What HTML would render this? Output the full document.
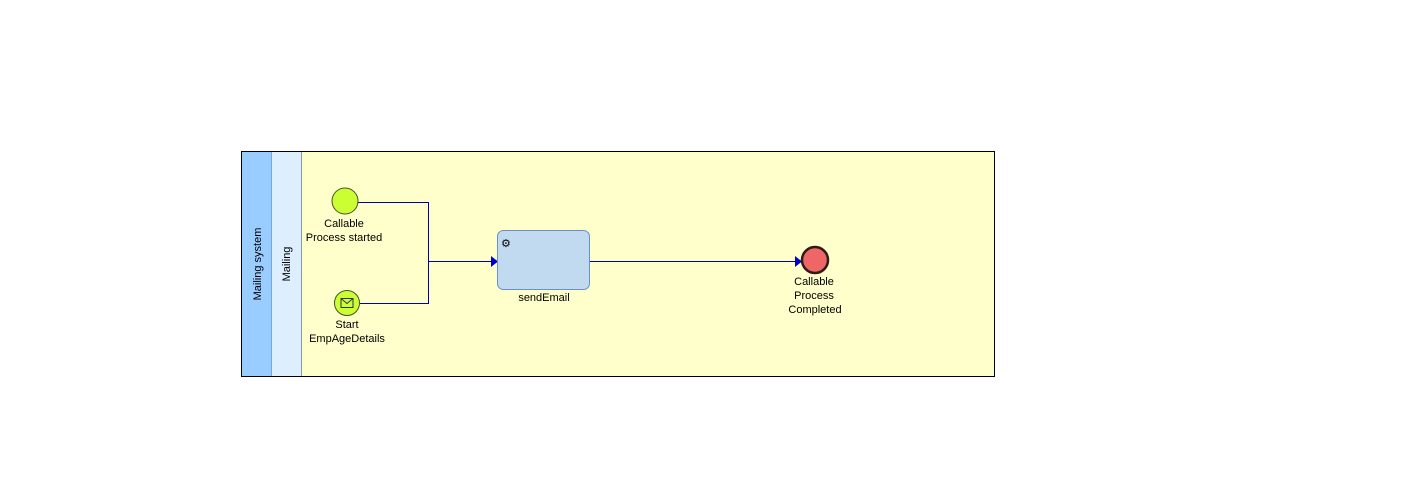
<!DOCTYPE html>
<html><head><style>
html,body{margin:0;padding:0;background:#fff;}
svg{display:block;}
text{font-family:"Liberation Sans",sans-serif;font-size:11px;fill:#000;}
</style></head><body>
<svg width="1411" height="484" xmlns="http://www.w3.org/2000/svg">
<rect x="241.5" y="151.5" width="753" height="225" fill="#ffffcc" stroke="#000" stroke-width="1"/>
<rect x="242" y="152" width="29" height="224" fill="#99ccff"/>
<rect x="271" y="152" width="30" height="224" fill="#ddeeff"/>
<line x1="271.5" y1="152" x2="271.5" y2="376" stroke="#7aa6d6"/>
<line x1="301.5" y1="152" x2="301.5" y2="376" stroke="#8a9aa6"/>
<text transform="translate(261,264) rotate(-90)" text-anchor="middle" font-size="12">Mailing system</text>
<text transform="translate(290,264) rotate(-90)" text-anchor="middle" font-size="12">Mailing</text>
<g fill="none" stroke="#0000aa" stroke-width="1">
<polyline points="358,202.5 428.5,202.5 428.5,261.5"/>
<polyline points="360,303.5 428.5,303.5 428.5,261.5"/>
<line x1="428" y1="261.5" x2="492" y2="261.5"/>
<line x1="590" y1="261.5" x2="797" y2="261.5"/>
</g>
<polygon points="491,256 498,261.5 491,267" fill="#0000cc"/>
<polygon points="795,256 802,261.5 795,267" fill="#0000cc"/>
<circle cx="345" cy="201" r="13" fill="#ccff33" stroke="#445522" stroke-width="1"/>
<circle cx="347" cy="303" r="12.5" fill="#ccff33" stroke="#445522" stroke-width="1"/>
<rect x="341" y="298.5" width="12" height="9" fill="none" stroke="#333" stroke-width="1"/>
<polyline points="341,298.5 347,303.5 353,298.5" fill="none" stroke="#333"/>
<rect x="497.5" y="230.5" width="92" height="59" rx="6" fill="#c2daf0" stroke="#6b8fc8"/>
<text x="501" y="247" font-size="16" fill="#333">⚙</text>
<circle cx="815" cy="260" r="13" fill="#ee6666" stroke="#331a1a" stroke-width="2.5"/>
<text x="344" y="227" text-anchor="middle">Callable</text>
<text x="344" y="241" text-anchor="middle">Process started</text>
<text x="347" y="328" text-anchor="middle">Start</text>
<text x="347" y="342" text-anchor="middle">EmpAgeDetails</text>
<text x="544" y="301" text-anchor="middle">sendEmail</text>
<text x="814" y="285" text-anchor="middle">Callable</text>
<text x="814" y="299" text-anchor="middle">Process</text>
<text x="815" y="313" text-anchor="middle">Completed</text>
</svg>
</body></html>
